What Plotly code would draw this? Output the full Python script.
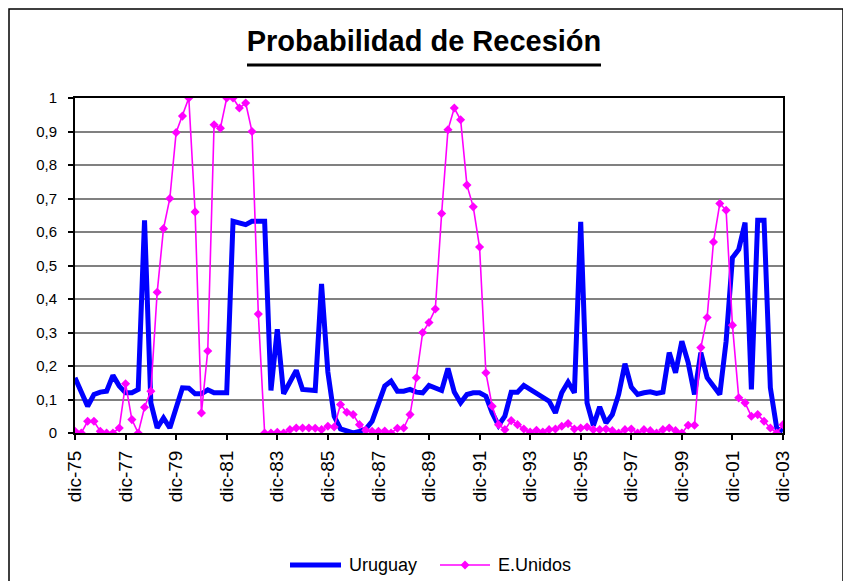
import plotly.graph_objects as go

# Quarterly categories, dic-75 ... dic-03
months = ["mar", "jun", "sep", "dic"]
quarters = ["dic-75"]
for yr in range(1976, 2004):
    for m in months:
        quarters.append(f"{m}-{yr % 100:02d}")

uruguay = [
    0.165, 0.12, 0.08, 0.115, 0.122, 0.125, 0.172, 0.14,
    0.12, 0.12, 0.13, 0.635, 0.09, 0.015, 0.045, 0.015,
    0.075, 0.135, 0.134, 0.117, 0.117, 0.129, 0.12, 0.12,
    0.12, 0.632, 0.627, 0.622, 0.632, 0.632, 0.632, 0.127,
    0.31, 0.117, 0.15, 0.187, 0.13, 0.13, 0.127, 0.445,
    0.182, 0.05, 0.012, 0.006, 0.0, 0.005, 0.012, 0.035,
    0.085, 0.14, 0.155, 0.125, 0.125, 0.13, 0.122, 0.12,
    0.142, 0.133, 0.127, 0.193, 0.122, 0.09, 0.115, 0.12,
    0.12, 0.11, 0.06, 0.023, 0.05, 0.122, 0.122, 0.142,
    0.13, 0.118, 0.107, 0.095, 0.06, 0.12, 0.152, 0.12,
    0.63, 0.09, 0.022, 0.078, 0.03, 0.055, 0.115, 0.207,
    0.137, 0.115, 0.12, 0.123, 0.118, 0.122, 0.24, 0.18,
    0.274, 0.21, 0.115, 0.24, 0.165, 0.14, 0.115, 0.274,
    0.523, 0.548, 0.628, 0.13, 0.635, 0.635, 0.135, 0.015,
    0.005,
]

eunidos = [
    0.005, 0.0, 0.035, 0.035, 0.005, 0.0, 0.0, 0.015,
    0.147, 0.04, 0.0, 0.077, 0.125, 0.42, 0.61, 0.70,
    0.897, 0.946, 1.0, 0.66, 0.06, 0.245, 0.92, 0.91,
    1.0, 1.0, 0.97, 0.985, 0.90, 0.355, 0.0, 0.0,
    0.002, 0.0, 0.01, 0.015, 0.015, 0.015, 0.014, 0.01,
    0.02, 0.018, 0.085, 0.062, 0.055, 0.025, 0.008, 0.005,
    0.005, 0.006, 0.0, 0.014, 0.015, 0.055, 0.165, 0.30,
    0.33, 0.37, 0.655, 0.905, 0.97, 0.935, 0.74, 0.675,
    0.555, 0.18, 0.08, 0.025, 0.01, 0.037, 0.025, 0.012,
    0.003, 0.008, 0.003, 0.01, 0.012, 0.02, 0.028, 0.012,
    0.015, 0.018, 0.01, 0.01, 0.012, 0.007, 0.0, 0.01,
    0.012, 0.0, 0.01, 0.007, 0.0, 0.01, 0.015, 0.007,
    0.0, 0.023, 0.023, 0.255, 0.345, 0.57, 0.685, 0.665,
    0.322, 0.105, 0.09, 0.05, 0.055, 0.035, 0.015, 0.0,
    0.025,
]

x_tick_labels = ["dic-75", "dic-77", "dic-79", "dic-81", "dic-83", "dic-85",
                 "dic-87", "dic-89", "dic-91", "dic-93", "dic-95", "dic-97",
                 "dic-99", "dic-01", "dic-03"]
y_tick_vals = [0, 0.1, 0.2, 0.3, 0.4, 0.5, 0.6, 0.7, 0.8, 0.9, 1.0]
y_tick_text = ["0", "0,1", "0,2", "0,3", "0,4", "0,5", "0,6", "0,7", "0,8", "0,9", "1"]

FONT = "Liberation Sans, Arial, sans-serif"
BLUE = "#0000FF"
MAGENTA = "#FF00FF"

# plot area in figure pixels (page is offset by the 8px body margin)
L, T, W, H = 67, 90, 708, 335
FIG_W, FIG_H = 851, 581


def px(fx):
    return (fx - L) / W


def py(fy):
    return (T + H - fy) / H


fig = go.Figure()
fig.add_trace(go.Scatter(
    x=quarters, y=uruguay, name="Uruguay", mode="lines",
    line=dict(color=BLUE, width=5),
))
fig.add_trace(go.Scatter(
    x=quarters, y=eunidos, name="E.Unidos", mode="lines+markers",
    line=dict(color=MAGENTA, width=1.6),
    marker=dict(symbol="diamond", size=7, color=MAGENTA),
))

fig.update_layout(
    width=FIG_W, height=FIG_H,
    margin=dict(l=L, r=FIG_W - L - W, t=T, b=FIG_H - T - H, autoexpand=False),
    paper_bgcolor="white", plot_bgcolor="white",
    font=dict(family=FONT, color="black"),
    title=dict(text="<b>Probabilidad de Recesión</b>",
               x=416 / FIG_W, xref="container", xanchor="center",
               y=1 - 43 / FIG_H, yref="container", yanchor="bottom",
               font=dict(size=29, family=FONT, color="black")),
    showlegend=False,
    xaxis=dict(
        type="category", range=[0, len(quarters) - 1],
        tickmode="array", tickvals=x_tick_labels, ticktext=x_tick_labels,
        tickangle=-90, ticks="outside", ticklen=5, tickwidth=1.5,
        tickcolor="black", tickfont=dict(size=19, family=FONT, color="black"),
        ticklabelstandoff=3,
        showline=True, linecolor="black", linewidth=2, mirror=True,
        showgrid=False, zeroline=False, automargin=False,
    ),
    yaxis=dict(
        range=[0, 1], tickmode="array", tickvals=y_tick_vals, ticktext=y_tick_text,
        ticks="outside", ticklen=5, tickwidth=1.5, tickcolor="black",
        tickfont=dict(size=15, family=FONT, color="black"),
        ticklabelstandoff=8,
        showline=True, linecolor="black", linewidth=2, mirror=True,
        showgrid=True, gridcolor="#808080", gridwidth=1.5, zeroline=False,
        automargin=False,
    ),
)

# Title underline (thick, as in the original)
fig.add_shape(type="line", xref="paper", yref="paper",
              x0=px(239), x1=px(593), y0=py(57), y1=py(57),
              line=dict(color="black", width=3))

# Outer chart-area border
fig.add_shape(type="rect", xref="paper", yref="paper",
              x0=px(1), x1=px(835), y0=py(FIG_H + 20), y1=py(1),
              line=dict(color="black", width=1.5), fillcolor="rgba(0,0,0,0)",
              layer="below")

# Custom legend (longer line samples, as in the original)
LEG_Y = 557
fig.add_shape(type="line", xref="paper", yref="paper",
              x0=px(282), x1=px(333), y0=py(LEG_Y), y1=py(LEG_Y),
              line=dict(color=BLUE, width=5))
fig.add_annotation(xref="paper", yref="paper", x=px(339), y=py(LEG_Y),
                   xanchor="left", yanchor="middle", showarrow=False,
                   text="Uruguay", font=dict(size=18, family=FONT, color="black"))
fig.add_shape(type="line", xref="paper", yref="paper",
              x0=px(432), x1=px(482), y0=py(LEG_Y), y1=py(LEG_Y),
              line=dict(color=MAGENTA, width=1.6))
fig.add_shape(type="path", xref="paper", yref="paper",
              xsizemode="pixel", ysizemode="pixel",
              xanchor=px(457), yanchor=py(LEG_Y),
              path="M -4.5 0 L 0 4.5 L 4.5 0 L 0 -4.5 Z",
              fillcolor=MAGENTA, line=dict(width=0))
fig.add_annotation(xref="paper", yref="paper", x=px(488), y=py(LEG_Y),
                   xanchor="left", yanchor="middle", showarrow=False,
                   text="E.Unidos", font=dict(size=18, family=FONT, color="black"))

fig.write_html("out.html")
